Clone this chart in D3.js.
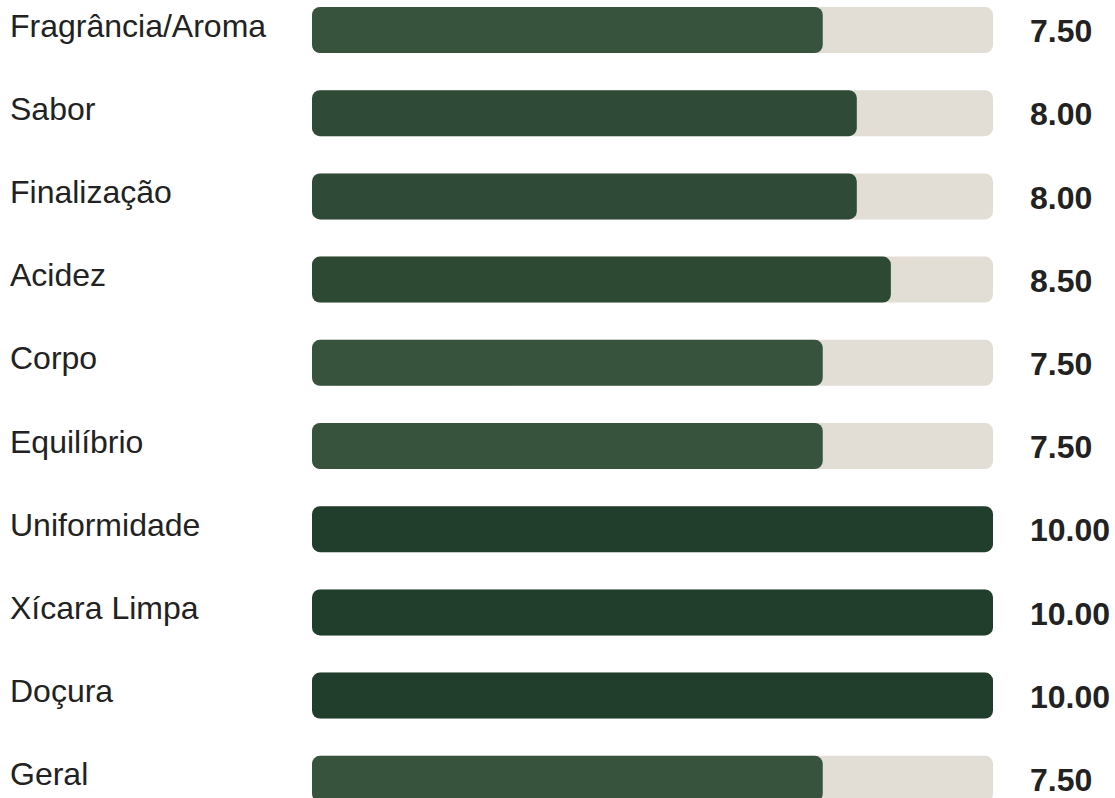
<!DOCTYPE html>
<html>
<head>
<meta charset="utf-8">
<script src="https://cdn.jsdelivr.net/npm/d3@7"></script>
<style>
  body { margin: 0; background: #fff; }
  svg { display: block; font-family: "Liberation Sans", Arial, sans-serif; }
</style>
</head>
<body>
<svg id="chart" width="1115" height="798"></svg>
<script>
const categories = ['Fragrância/Aroma', 'Sabor', 'Finalização', 'Acidez', 'Corpo', 'Equilíbrio', 'Uniformidade', 'Xícara Limpa', 'Doçura', 'Geral']
const scores = [7.5, 8, 8, 8.5, 7.5, 7.5, 10, 10, 10, 7.5]
const maxScore = 10

const data = categories.map((c, i) => ({ name: c, value: scores[i] }))

const svg = d3.select('#chart')

// row step and bar height
const step = 83.2
const barH = 46
const pad = (step - barH) / step
const firstRowY = 7

const x = d3.scaleLinear().domain([0, maxScore]).range([312, 993])
const y = d3.scaleBand()
  .domain(categories)
  .range([firstRowY, firstRowY + step * (categories.length - pad)])
  .paddingInner(pad)
  .paddingOuter(0)

const color = d3.scaleLinear()
  .domain([7.5, 8, 8.5, 10])
  .range(['#37533d', '#2f4b37', '#2d4934', '#213d2c'])

const rows = svg.selectAll('.row')
  .data(data)
  .join('g')
  .attr('class', 'row')
  .attr('transform', d => `translate(0,${y(d.name)})`)

// background track
rows.append('rect')
  .attr('x', x(0))
  .attr('width', x(maxScore) - x(0))
  .attr('height', y.bandwidth())
  .attr('rx', 8)
  .attr('fill', '#e2ded6')

// score bar
rows.append('rect')
  .attr('x', x(0))
  .attr('width', d => x(d.value) - x(0))
  .attr('height', y.bandwidth())
  .attr('rx', 8)
  .attr('fill', d => color(d.value))

// category label
rows.append('text')
  .attr('x', 10)
  .attr('y', y.bandwidth() / 2 - 4.5)
  .attr('dy', '0.35em')
  .attr('fill', '#222')
  .style('font-size', '32px')
  .text(d => d.name)

// score value
rows.append('text')
  .attr('x', 1030)
  .attr('y', y.bandwidth() / 2 + 1)
  .attr('dy', '0.35em')
  .attr('fill', '#222')
  .style('font-size', '32px')
  .style('font-weight', 'bold')
  .text(d => d.value.toFixed(2))
</script>
</body>
</html>
